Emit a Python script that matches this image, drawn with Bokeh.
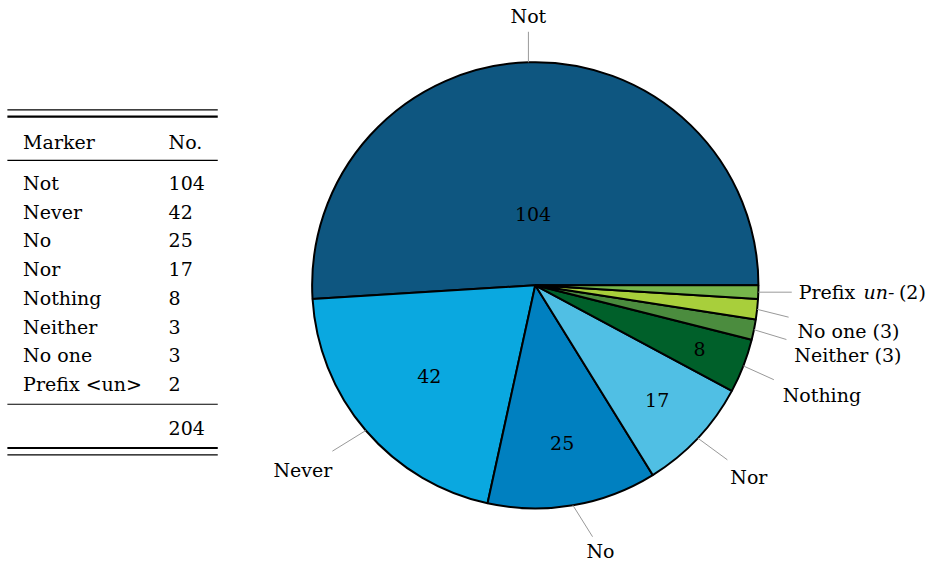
import math
from bokeh.plotting import figure
from bokeh.models import Range1d, ColumnDataSource
from bokeh.embed import file_html
from bokeh.resources import INLINE
from bokeh.core.properties import value

# ---------------- data ----------------
markers = ["Not", "Never", "No", "Nor", "Nothing", "Neither", "No one", "Prefix <un>"]
counts = [104, 42, 25, 17, 8, 3, 3, 2]
pie_names = ["Not", "Never", "No", "Nor", "Nothing", "Neither (3)", "No one (3)", None]
colors = ["#0e5680", "#0aa8e0", "#0080c0", "#50bfe4", "#00602a", "#4b8c3e", "#a8cf3b", "#76b54b"]
header = ["Marker", "No."]

# ---------------- style / layout ----------------
FONT = "DejaVu Serif"
FS = "19px"
W, H = 928, 564
S = W / 944.0
CX, CY, R = 544, 284, 227            # pie centre & radius (reference px, y up)
inner_rf = [0.32, 0.625, 0.715, 0.75, 0.79, None, None, None]
lead_off = [(0, 31), (-34, -21), (20, -32), (30, -22), (31, -14), (33, -10), (32, -8), (34, 0)]
lab_off = [(0, 16, "center"), (0, -19, "right"), (8, -15, "center"), (3, -18, "left"),
           (9, -16, "left"), (8, -16, "left"), (9, -14, "left"), (7, 0, "left")]

p = figure(width=W, height=H, x_range=Range1d(0, 944), y_range=Range1d(0, H / S),
           output_backend="svg", toolbar_location=None, min_border=0)
p.axis.visible = False
p.grid.visible = False
p.outline_line_color = None

def Y(img_y):
    return 580 - img_y

def txt(x, y, t, align="left", style="normal"):
    p.text(x=x, y=y, text=t, text_font=value(FONT), text_font_size=FS, text_font_style=style,
           text_align=align, text_baseline="middle", text_color="black")

# ---------------- pie ----------------
total = sum(counts)
starts, ends, mids = [], [], []
acc = 0.0
for c in counts:
    a0 = acc / total * 2 * math.pi
    acc += c
    a1 = acc / total * 2 * math.pi
    starts.append(a0); ends.append(a1); mids.append((a0 + a1) / 2)

src = ColumnDataSource(dict(start=starts, end=ends, color=colors))
p.wedge(x=CX, y=CY, radius=R, start_angle="start", end_angle="end", direction="anticlock",
        fill_color="color", line_color="black", line_width=2, source=src)

ix, iy, it = [], [], []
for m, c, rf in zip(mids, counts, inner_rf):
    if rf is None:
        continue
    ix.append(CX + rf * R * math.cos(m)); iy.append(CY + rf * R * math.sin(m)); it.append(str(c))
txt(ix, iy, it, "center")

x0s, y0s, x1s, y1s = [], [], [], []
for i, m in enumerate(mids):
    ex, ey = CX + R * math.cos(m), CY + R * math.sin(m)
    lx, ly = ex + lead_off[i][0], ey + lead_off[i][1]
    x0s.append(ex); y0s.append(ey); x1s.append(lx); y1s.append(ly)
    dx, dy, al = lab_off[i]
    if pie_names[i] is not None:
        txt([lx + dx], [ly + dy], [pie_names[i]], al)
    else:
        tx, ty = lx + dx, ly + dy
        txt([tx], [ty], ["Prefix"])
        txt([tx + 66], [ty], ["un-"], style="italic")
        txt([tx + 102], [ty], ["(%d)" % counts[i]])
p.segment(x0=x0s, y0=y0s, x1=x1s, y1=y1s, line_color="#999999", line_width=1)

# ---------------- table ----------------
TX0, TX1 = 7, 221
COL1, COL2 = 23, 171
txt([COL1, COL2], [Y(150), Y(150)], header)
row_y = [Y(192 + 29.2 * i) for i in range(len(markers))]
txt([COL1] * len(markers), row_y, markers)
txt([COL2] * len(counts), row_y, [str(c) for c in counts])
txt([COL2], [Y(441)], [str(total)])

thin_y = [Y(117.5), Y(169), Y(417), Y(468.5)]
thick_y = [Y(124.5), Y(461.5)]
p.segment(x0=[TX0] * 4, x1=[TX1] * 4, y0=thin_y, y1=thin_y, line_color="black", line_width=1.2)
p.segment(x0=[TX0] * 2, x1=[TX1] * 2, y0=thick_y, y1=thick_y, line_color="black", line_width=2.2)

open("out.html", "w").write(file_html(p, INLINE))
